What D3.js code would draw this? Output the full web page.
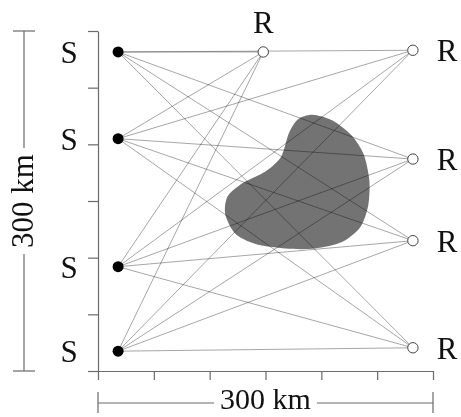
<!DOCTYPE html>
<html>
<head>
<meta charset="utf-8">
<script src="https://cdn.jsdelivr.net/npm/d3@7"></script>
<style>
  body { margin: 0; background: #fff; }
  text { font-family: "Liberation Serif", "Times New Roman", serif; fill: #111; }
</style>
</head>
<body>
<svg width="461" height="417"></svg>
<script>
// positions in km, survey area 300 x 300 km
const sourceX = [18, 18, 18, 18];
const sourceY = [281.5, 205, 92, 17.5];
const receiverX = [148, 282, 282, 282, 282];
const receiverY = [281.5, 283, 187, 115, 20.5];
const axisTicks = [0, 50, 100, 150, 200, 250, 300];
const scaleLabel = '300 km';
// outline of the anomaly (km)
const blobX = [192, 210, 227, 238, 243, 242, 235, 219, 194, 168, 141, 123, 114, 116, 130, 150, 164, 171, 179];
const blobY = [226, 221, 208, 191, 168, 146, 127, 114, 108, 108, 112, 121, 138, 154, 166, 176, 189, 210, 222];

const svg = d3.select('svg');
const width = +svg.attr('width');
const height = +svg.attr('height');

const x = d3.scaleLinear().domain([0, 300]).range([98, 433]);
const y = d3.scaleLinear().domain([0, 300]).range([371, 31]);

const sources = sourceX.map((d, i) => ({ x: d, y: sourceY[i] }));
const receivers = receiverX.map((d, i) => ({ x: d, y: receiverY[i] }));
const blob = blobX.map((d, i) => [d, blobY[i]]);

// anomaly
svg.append('path')
    .attr('d', d3.line().x(d => x(d[0])).y(d => y(d[1])).curve(d3.curveCardinalClosed.tension(0.2))(blob))
    .attr('fill', '#737373');

// ray paths, every source to every receiver
const rays = [];
sources.forEach(s => receivers.forEach(r => rays.push([s, r])));
svg.append('g').selectAll('line')
    .data(rays)
    .join('line')
    .attr('x1', d => x(d[0].x))
    .attr('y1', d => y(d[0].y))
    .attr('x2', d => x(d[1].x))
    .attr('y2', d => y(d[1].y))
    .attr('stroke', '#9c9c9c')
    .attr('stroke-width', 0.9)
    .style('mix-blend-mode', 'multiply');

// axes
const axisColor = '#6a6a6a';
const yAxis = svg.append('g')
    .attr('transform', `translate(${x(0)},0)`)
    .call(d3.axisLeft(y).tickValues(axisTicks).tickSize(10).tickSizeOuter(0).tickFormat(''));
const xAxis = svg.append('g')
    .attr('transform', `translate(0,${y(0)})`)
    .call(d3.axisBottom(x).tickValues(axisTicks).tickSize(9).tickSizeOuter(0).tickFormat(''));
[xAxis, yAxis].forEach(a => {
    a.selectAll('path, line').attr('stroke', axisColor).attr('stroke-width', 1.2);
});

// sources and receivers
svg.append('g').selectAll('circle')
    .data(sources)
    .join('circle')
    .attr('cx', d => x(d.x))
    .attr('cy', d => y(d.y))
    .attr('r', 5.5)
    .attr('fill', '#000');

svg.append('g').selectAll('circle')
    .data(receivers)
    .join('circle')
    .attr('cx', d => x(d.x))
    .attr('cy', d => y(d.y))
    .attr('r', 5.2)
    .attr('fill', '#fff')
    .attr('stroke', '#444')
    .attr('stroke-width', 1);

// labels
const fs = 31;
svg.append('g').selectAll('text')
    .data(sources)
    .join('text')
    .attr('x', 69)
    .attr('y', d => y(d.y) + 11)
    .attr('text-anchor', 'middle')
    .attr('font-size', fs)
    .text('S');

svg.append('g').selectAll('text')
    .data(receivers)
    .join('text')
    .attr('x', (d, i) => i === 0 ? x(d.x) : 447)
    .attr('y', (d, i) => i === 0 ? y(d.y) - 19 : y(d.y) + 11)
    .attr('text-anchor', 'middle')
    .attr('font-size', fs)
    .text('R');

// scale bars
const barColor = '#6a6a6a';
const pad = 6;

// horizontal bar
const hy = 403;
const hText = svg.append('text')
    .attr('x', (x(0) + x(300)) / 2)
    .attr('y', 409)
    .attr('text-anchor', 'middle')
    .attr('font-size', 30)
    .text(scaleLabel);
const hw = hText.node().getComputedTextLength();
const hc = (x(0) + x(300)) / 2;
const hb = svg.append('g').attr('stroke', barColor).attr('stroke-width', 1.2);
hb.append('line').attr('x1', x(0)).attr('x2', hc - hw / 2 - pad).attr('y1', hy).attr('y2', hy);
hb.append('line').attr('x1', hc + hw / 2 + pad).attr('x2', x(300)).attr('y1', hy).attr('y2', hy);
hb.append('line').attr('x1', x(0)).attr('x2', x(0)).attr('y1', hy - 11).attr('y2', hy + 10);
hb.append('line').attr('x1', x(300)).attr('x2', x(300)).attr('y1', hy - 11).attr('y2', hy + 10);

// vertical bar
const vx = 24;
const vc = (y(0) + y(300)) / 2;
const vText = svg.append('text')
    .attr('transform', `translate(33,${vc}) rotate(-90)`)
    .attr('text-anchor', 'middle')
    .attr('font-size', 31)
    .text(scaleLabel);
const vw = vText.node().getComputedTextLength();
const vb = svg.append('g').attr('stroke', barColor).attr('stroke-width', 1.2);
vb.append('line').attr('x1', vx).attr('x2', vx).attr('y1', y(300)).attr('y2', vc - vw / 2 - pad);
vb.append('line').attr('x1', vx).attr('x2', vx).attr('y1', vc + vw / 2 + pad).attr('y2', y(0));
vb.append('line').attr('x1', vx - 11).attr('x2', vx + 11).attr('y1', y(300)).attr('y2', y(300));
vb.append('line').attr('x1', vx - 11).attr('x2', vx + 11).attr('y1', y(0)).attr('y2', y(0));
</script>
</body>
</html>
